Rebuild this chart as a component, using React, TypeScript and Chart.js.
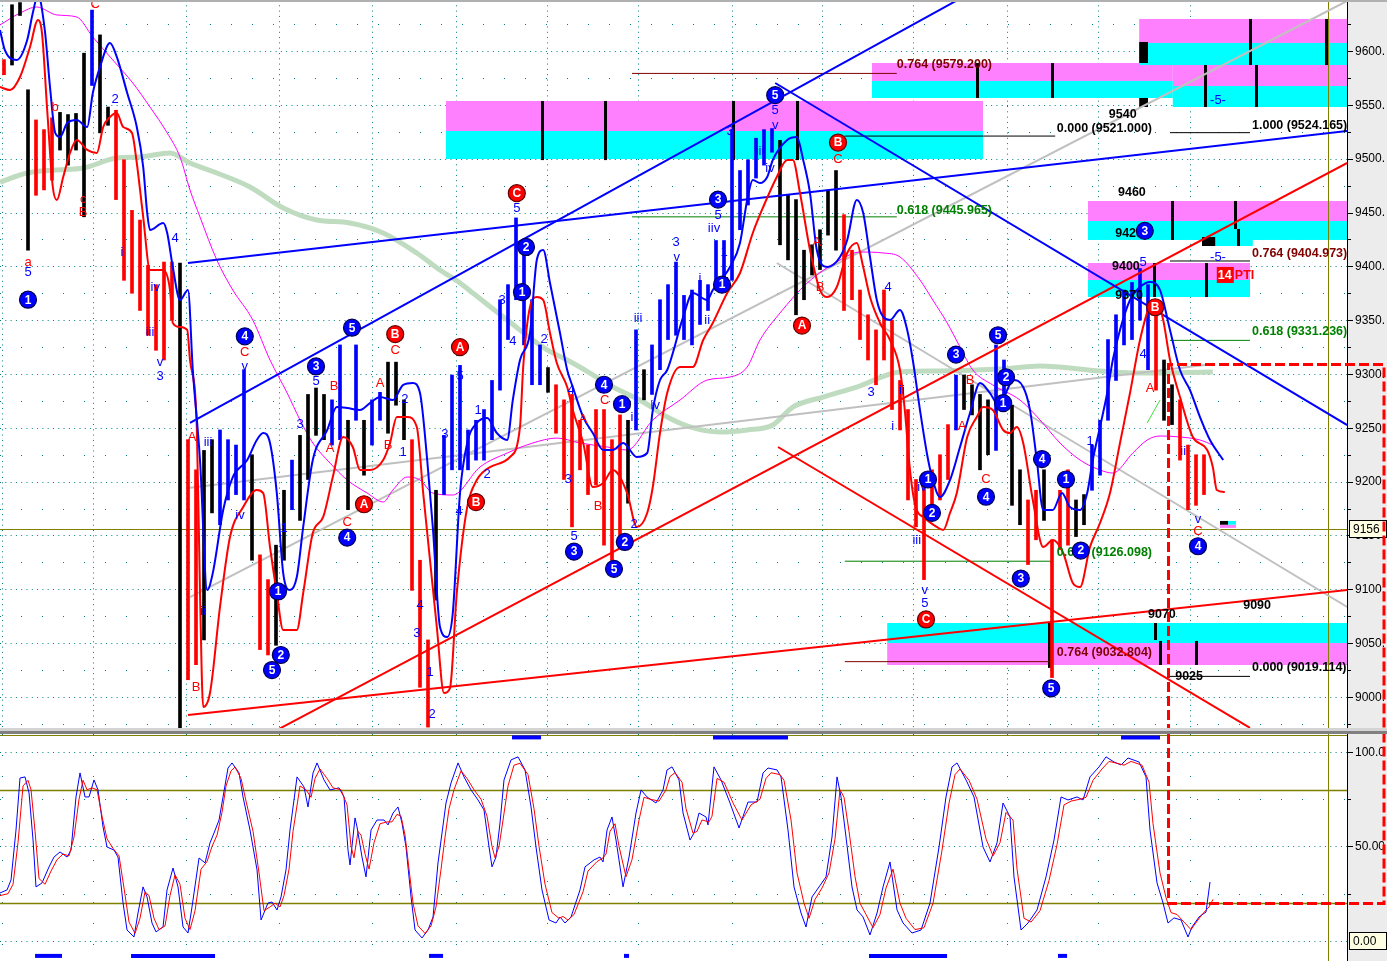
import React, { useEffect, useRef } from "react";
import { Chart, registerables } from "chart.js";
Chart.register(...registerables);

const FONT = '"Liberation Sans", Arial, sans-serif';
// x axis unit = one bar
const X_MIN = 0;
const X_MAX = 168.375;
const P_MIN = 8965.6;
const P_MAX = 9647.4;
const S_MIN = -10.6;
const S_MAX = 109.5;

// ---------------- price bars ----------------
const barHigh = [
  9592, 9643, 9645, 9564, 9536, 9527, 9538, 9543, 9541, 9542,
  9598, 9638, 9615, 9548, 9545, 9499, 9452, 9443, 9401, 9383,
  9404, 9404, 9403, 9239, 9211, 9229, 9239, 9248, 9239, 9234,
  9304, 9225, 9132, 9109, 9141, 9192, 9220, 9243, 9281, 9287,
  9281, 9276, 9327, 9257, 9327, 9257, 9276, 9283, 9311, 9311,
  9276, 9239, 9127, 9053, 9192, 9243, 9299, 9308, 9248, 9257,
  9267, 9294, 9369, 9383, 9445, 9424, 9369, 9327, 9306, 9290,
  9276, 9281, 9257, 9234, 9267, 9267, 9239, 9262, 9257, 9341,
  9304, 9327, 9369, 9383, 9404, 9373, 9378, 9387, 9383, 9424,
  9424, 9527, 9489, 9499, 9519, 9527, 9528, 9517, 9466, 9462,
  9415, 9420, 9434, 9471, 9489, 9448, 9415, 9378, 9355, 9341,
  9378, 9350, 9294, 9267, 9202, 9202, 9211, 9225, 9253, 9299,
  9299, 9290, 9281, 9276, 9327, 9313, 9271, 9211, 9183, 9192,
  9211, 9146, 9192, 9211, 9183, 9188, 9234, 9257, 9332, 9355,
  9378, 9385, 9398, 9383, 9369, 9313, 9290, 9276, 9234, 9225,
  9225,
];
const barLow = [
  9578, 9587, 9633, 9415, 9466, 9471, 9480, 9508, 9494, 9508,
  9446, 9568, 9524, 9531, 9462, 9387, 9375, 9359, 9336, 9322,
  9313, 9350, 8969, 9016, 9030, 9053, 9171, 9160, 9183, 9188,
  9183, 9127, 9044, 9039, 9048, 9127, 9174, 9164, 9202, 9243,
  9239, 9234, 9239, 9174, 9257, 9206, 9234, 9257, 9245, 9271,
  9239, 9099, 9009, 8972, 9090, 9188, 9211, 9211, 9211, 9220,
  9220, 9239, 9285, 9332, 9369, 9327, 9290, 9290, 9283, 9245,
  9202, 9158, 9211, 9188, 9197, 9141, 9127, 9150, 9180, 9248,
  9276, 9281, 9304, 9332, 9336, 9332, 9327, 9346, 9359, 9378,
  9383, 9387, 9434, 9457, 9482, 9494, 9506, 9420, 9406, 9355,
  9369, 9392, 9397, 9429, 9415, 9359, 9369, 9332, 9313, 9290,
  9313, 9267, 9248, 9183, 9158, 9109, 9164, 9183, 9202, 9248,
  9267, 9262, 9211, 9225, 9229, 9276, 9178, 9160, 9123, 9146,
  9164, 9018, 9137, 9141, 9149, 9160, 9192, 9206, 9257, 9294,
  9327, 9332, 9350, 9304, 9285, 9257, 9253, 9220, 9174, 9178,
  9188,
];
const barColor = (
  "rkkkrrrkkk" + "kbkkrrrrrr" + "rrkrrkkbbb" + "bkrrkkbkkk" + "kbbkbkbbkk" +
  "krrrkbbbbb" + "bbbbbbbbkr" + "rrrrrrrrkb" + "kbbbbbbbbb" + "bbbbbbbkkk" +
  "kkkkkrrrrr" + "rrrrrrrrrb" + "kkkkbbkkrr" + "krrrkkbbbb" + "bbbbrkkrrr" + "r"
).split("");

// ---------------- smooth overlays [bar, price] ----------------
const blueBand = [
  [0, 9619.5], [0.6, 9601], [2.1, 9591.7], [3.4, 9610.2], [4.1, 9635.3], [4.75, 9652], [5.6, 9619.5],
  [6.25, 9566.6], [6.9, 9523.9], [7.5, 9520.1], [8.4, 9533.1], [9.6, 9535.9], [10.9, 9529.4], [11.6, 9561],
  [12.5, 9585.2], [13.75, 9607.5], [14.6, 9594.5], [15.9, 9561], [17.1, 9529.4], [17.9, 9492.3], [18.4, 9449.5],
  [18.75, 9433.8], [20.4, 9440.3], [20.9, 9431], [21.6, 9399.4], [22.5, 9368.7], [23.5, 9378], [24.1, 9303.7],
  [25, 9220.1], [25.9, 9099.3], [26.6, 9115.1], [27.9, 9173.7], [29.1, 9204.3], [30.9, 9220.1], [32.1, 9238.7],
  [32.9, 9245.2], [33.75, 9235.9], [34.6, 9189.4], [35.4, 9115.1], [36.25, 9099.3], [37.1, 9111.4], [37.9, 9157.9],
  [39.1, 9220.1], [40.9, 9248], [42.1, 9269.3], [43.4, 9268.4], [45, 9266.5], [46.25, 9273], [47.5, 9278.6],
  [49.1, 9275.8], [50.4, 9289.8], [51.6, 9291.6], [52.5, 9282.3], [53.4, 9220.1], [54.1, 9157.9], [55, 9065],
  [55.9, 9055.7], [56.6, 9078], [57.5, 9189.4], [58.4, 9235.9], [59.6, 9254.5], [60.9, 9259.1], [62.1, 9245.2],
  [63.4, 9238.7], [64.1, 9275.8], [65, 9313], [66.25, 9338.1], [67.1, 9405.9], [67.9, 9415.2], [68.75, 9384.5],
  [70, 9338.1], [70.9, 9303.7], [71.6, 9287.9], [72.9, 9260], [74.1, 9245.2], [75.4, 9229.4], [76.6, 9229.4],
  [77.9, 9235.9], [79.6, 9222.9], [80.9, 9226.6], [81.6, 9266.5], [82.5, 9294.4], [83.4, 9303.7], [85.4, 9353],
  [86.6, 9375.2], [88.4, 9368.7], [89.1, 9378], [91.25, 9399.4], [92.5, 9421.7], [93.4, 9461.6], [94.1, 9480.2],
  [95, 9477.4], [95.9, 9483], [96.6, 9498.8], [98.4, 9517.4], [99.6, 9520.1], [100.4, 9498.8], [101.25, 9468.1],
  [102.1, 9415.2], [103.4, 9399.4], [105, 9408.7], [105.9, 9424.5], [107.1, 9461.6], [107.9, 9449.5], [108.75, 9408.7],
  [109.6, 9368.7], [110.4, 9353], [111.25, 9350.1], [112.5, 9359.4], [113.4, 9340.9], [114.1, 9313], [115, 9266.5],
  [115.9, 9224.8], [116.6, 9201.5], [117.5, 9185.7], [118.75, 9201.5], [120, 9232.2], [121.25, 9263.8], [122.5, 9291.6],
  [123.75, 9282.3], [125, 9269.3], [125.9, 9285.1], [126.6, 9294.4], [127.9, 9287.9], [128.75, 9266.5], [129.6, 9220.1],
  [130.4, 9173.7], [131.6, 9173.7], [132.75, 9189.4], [133.75, 9176.4], [135, 9173.7], [135.9, 9189.4], [136.6, 9220.1],
  [137.5, 9250.8], [138.4, 9282.3], [139.1, 9313], [140, 9340.9], [141.25, 9368.7], [142.5, 9380.8], [143.75, 9385.4],
  [145, 9378], [146.25, 9340.9], [147.5, 9303.7], [148.75, 9285.1], [150, 9260], [151.25, 9238.7], [152.9, 9220.1],
];
const redBand = [
  [0, 9566.6], [1.25, 9563.8], [2.5, 9575.9], [3.75, 9603.7], [4.75, 9628.8], [5.25, 9616.7], [5.9, 9545.2],
  [6.6, 9473.7], [7.1, 9461.6], [7.9, 9483], [8.75, 9505.3], [9.6, 9517.4], [10.9, 9508.1], [12.1, 9505.3],
  [12.9, 9529.4], [13.75, 9538.7], [14.6, 9542.4], [15.4, 9529.4], [16.5, 9523.9], [17.1, 9496], [17.9, 9445.8],
  [18.75, 9396.6], [20.4, 9396.6], [21.25, 9378], [21.6, 9347.4], [22.5, 9343.6], [23.4, 9340.9], [23.75, 9313],
  [24.6, 9250.8], [25, 9096.6], [25.4, 8990.7], [26.25, 9003.7], [27.5, 9083.6], [28.75, 9148.6], [30.4, 9176.4],
  [32.1, 9192.2], [32.9, 9189.4], [33.75, 9139.3], [34.6, 9096.6], [35.4, 9062.2], [37.1, 9062.2], [37.9, 9096.6],
  [39.1, 9152.3], [40.4, 9167.2], [41.6, 9204.3], [42.9, 9241.5], [44.1, 9232.2], [45, 9210.8], [46.25, 9210.8],
  [47.9, 9220.1], [48.75, 9235.9], [49.6, 9260], [50.9, 9260], [52.1, 9250.8], [52.9, 9189.4], [53.75, 9127.2],
  [54.6, 9065], [55.5, 9003.7], [56.25, 9008.3], [57.1, 9096.6], [58.4, 9176.4], [59.6, 9201.5], [61.25, 9213.6],
  [63.75, 9222.9], [65, 9250.8], [65.4, 9306.5], [66.25, 9362.2], [67.1, 9371.5], [67.9, 9368.7], [68.75, 9338.1],
  [69.6, 9310.2], [70.9, 9287.9], [71.6, 9266.5], [72.9, 9235.9], [74.1, 9195], [75.4, 9198.7], [76.6, 9210.8],
  [78.4, 9189.4], [79.6, 9157.9], [80.9, 9170.9], [81.6, 9195], [82.5, 9245.2], [83.4, 9282.3], [85, 9306.5],
  [86.6, 9306.5], [87.9, 9331.6], [89.1, 9347.4], [90.9, 9375.2], [92.5, 9393.8], [94.1, 9431], [95.4, 9455.1],
  [97.1, 9483], [98.4, 9498.8], [99.1, 9498.8], [100, 9468.1], [101.25, 9415.2], [102.5, 9378], [103.4, 9371.5],
  [104.6, 9380.8], [105.9, 9412.4], [107.1, 9421.7], [107.9, 9399.4], [108.75, 9371.5], [110, 9347.4], [111.25, 9331.6],
  [112.5, 9303.7], [113.1, 9266.5], [113.75, 9210.8], [114.4, 9178.3], [115.6, 9166.2], [117.1, 9157.9], [117.9, 9155.1],
  [118.75, 9170.9], [119.6, 9189.4], [120.9, 9241.5], [122.1, 9260], [122.9, 9269.3], [124.1, 9266.5], [125.4, 9248],
  [126.25, 9245.2], [127.1, 9250.8], [127.9, 9235.9], [129.1, 9183], [130.4, 9139.3], [131.6, 9145.8], [132.9, 9133.7],
  [134.1, 9105.8], [135, 9102.1], [136.25, 9139.3], [137.5, 9161.6], [138.75, 9189.4], [140, 9235.9], [141.25, 9282.3],
  [142.5, 9331.6], [143.75, 9364.1], [144.6, 9368.7], [145.4, 9350.1], [146.25, 9313], [147.5, 9278.6], [149.1, 9241.5],
  [150.9, 9229.4], [151.6, 9213.6], [152.1, 9192.2], [153.1, 9190.4],
];
const magentaAvg = [
  [0, 9624.2], [2.5, 9635.3], [4.6, 9640.9], [7.1, 9633.5], [9.6, 9631.6], [11.6, 9613], [14.1, 9591.7],
  [16.6, 9570.3], [18.75, 9548], [20.9, 9523.9], [22.5, 9501.6], [23.75, 9470.9], [25, 9445.8], [27.1, 9405.9],
  [29.1, 9378], [31.6, 9350.1], [33.75, 9313], [35.9, 9282.3], [37.5, 9257.3], [39.1, 9235.9], [41.25, 9217.3],
  [43.4, 9201.5], [45.9, 9189.4], [47.9, 9181.1], [49.1, 9192.2], [50.9, 9204.3], [52.5, 9201.5], [54.1, 9189.4],
  [56.6, 9187.6], [60, 9213.6], [63.4, 9226.6], [66.6, 9235.9], [69.6, 9240.5], [72.5, 9235.9], [75.9, 9232.2],
  [78.4, 9229.4], [81.6, 9257.3], [85, 9275.8], [88.4, 9294.4], [91.25, 9297.2], [93.4, 9306.5], [95, 9331.6],
  [97.5, 9356.7], [100.9, 9384.5], [105, 9405.9], [107.5, 9413.3], [110.4, 9412.4], [112.5, 9408.7], [115, 9387.3],
  [116.6, 9368.7], [118.4, 9347.4], [120, 9325.1], [121.6, 9303.7], [124.1, 9289.8], [127.5, 9275.8], [130, 9257.3],
  [132.5, 9235.9], [135, 9220.1], [137.5, 9210.8], [139.1, 9208], [141.6, 9226.6], [143.4, 9238.7], [145, 9242.4],
  [147.5, 9241.5], [150, 9238.7], [151.6, 9234],
];
const greenAvg = [
  [0, 9478.3], [3.4, 9486.7], [7.1, 9489.5], [10.4, 9491.3], [14.6, 9500.6], [17.5, 9501.6], [21.25, 9505.3],
  [23.75, 9496], [27.1, 9486.7], [31.25, 9473.7], [35.4, 9454.2], [39.6, 9443.1], [43.75, 9440.3], [47.9, 9431],
  [52.1, 9412.4], [55, 9396.6], [57.5, 9384.5], [59.1, 9375.2], [63.4, 9350.1], [68.4, 9322.3], [70.9, 9313],
  [73.75, 9300.9], [76.6, 9287.9], [80, 9275.8], [83.4, 9260], [86.25, 9250.8], [90, 9246.1], [93.4, 9248],
  [96.6, 9252.6], [99.1, 9269.3], [102.9, 9278.6], [107.1, 9287.9], [112.5, 9301.9], [117.5, 9302.8], [125, 9304.6],
  [130, 9307.4], [137.5, 9302.8], [142.5, 9300.9], [151.6, 9301.9],
];

// ---------------- trend lines [[bar, price],[bar, price]] ----------------
const blueTrends = [
  [[23.75, 9254.5], [123.1, 9661.3]],
  [[23.5, 9403.1], [168.4, 9525.7]],
  [[96.9, 9570.3], [168.4, 9252.6]],
];
const redTrends = [
  [[34.6, 8969.3], [168.4, 9496]],
  [[23.5, 8983.2], [168.4, 9099.3]],
  [[97.25, 9232.2], [156.25, 8971.2]],
];
const grayTrends = [
  [[23.75, 9092.8], [168.4, 9646.5]],
  [[23.5, 9194.1], [151.6, 9309.3]],
  [[97.1, 9403.1], [168.4, 9083.6]],
];
const limeTrend = [[143.4, 9254.5], [145, 9275.8]];

// ---------------- fibonacci levels [barFrom, barTo, price] ----------------
const fibBlack = [[105.6, 131.9, 9521], [146.25, 156.25, 9524.165], [146.25, 156.25, 9404.973], [146.25, 156.25, 9019.114]];
const fibGreen = [[79, 112.1, 9445.965], [146.25, 156.25, 9331.236], [105.6, 131.6, 9126.098]];
const fibDarkRed = [[79, 112.1, 9579.2], [105.6, 131.25, 9032.804]];

// ---------------- target zones [barFrom, barTo, priceLo, priceHi] ----------------
const magentaZones = [
  [55.75, 122.875, 9525.7, 9553.6], [109, 146.6, 9572.2, 9588.9], [146.6, 168.4, 9567.5, 9587],
  [142.4, 168.4, 9607.5, 9629.8], [136, 168.4, 9442.1, 9460.7], [150.25, 156.6, 9426.3, 9434.7],
  [136, 156.25, 9387.3, 9403.1], [110.9, 168.4, 9029.7, 9050.1], [152.5, 154.5, 9157, 9160],
];
const cyanZones = [
  [55.75, 122.875, 9499.7, 9525.7], [109, 146.6, 9556.4, 9572.2], [146.6, 168.4, 9548, 9567.5],
  [142.4, 168.4, 9587, 9607.5], [136, 168.4, 9424.5, 9442.1], [150.25, 156.6, 9418.9, 9426.3],
  [136, 156.25, 9371.5, 9387.3], [110.9, 168.4, 9050.1, 9068.7], [153.5, 154.5, 9160, 9163.5],
];
const blackBlocks = [
  [142.4, 143.5, 9588.9, 9608.4], [142.4, 143.5, 9548, 9556.4], [150.25, 151.9, 9418.9, 9427.2],
  [152.5, 153.5, 9160, 9163.5],
];
const zoneTicks = [
  [67.75, 9498.7, 9553.6], [75.6, 9498.7, 9553.6], [91.6, 9498.7, 9553.6], [99.6, 9498.7, 9553.6],
  [122.1, 9556.4, 9588.9], [131.5, 9556.4, 9588.9], [150.6, 9548, 9587], [157, 9548, 9587],
  [156.25, 9587, 9629.8], [165.75, 9587, 9629.8], [146.5, 9424.5, 9460.7], [154.4, 9434.7, 9460.7],
  [154.75, 9418.9, 9434.7], [144.25, 9371.5, 9403.1], [150.75, 9371.5, 9403.1], [144.4, 9052.9, 9068.7],
  [145, 9029.7, 9052], [149.5, 9029.7, 9052], [131.1, 9027, 9068.7],
];

// ---------------- wave labels [bar, price, text] ----------------
const redWaveText = [
  [3.5, 9404, "a"], [6.9, 9548, "b"], [10.4, 9462, "c"], [10.4, 9450, "B"], [11.9, 9643, "C"], [24, 9241, "A"],
  [24.5, 9009, "B"], [30.6, 9320, "C"], [41.75, 9288, "B"], [41.25, 9231, "A"], [47.5, 9291, "A"], [48.5, 9234, "B"],
  [49.4, 9322, "C"], [43.4, 9162, "C"], [72.9, 9258, "A"], [75.6, 9275, "C"], [74.75, 9177, "B"], [104.75, 9499, "C"],
  [102.1, 9422, "A"], [102.5, 9380, "B"], [120.25, 9251, "A"], [121.25, 9294, "B"], [123.25, 9202, "C"],
  [143.75, 9287, "A"], [149.75, 9154, "C"],
];
const blueWaveText = [
  [3.5, 9394, "5"], [14.4, 9555, "2"], [15.25, 9413, "i"], [19.4, 9380, "iv"], [18.75, 9339, "iii"], [20, 9311, "v"],
  [20, 9298, "3"], [21.9, 9426, "4"], [26, 9236, "iii"], [25.4, 9079, "ii"], [30, 9169, "iv"], [30.6, 9307, "v"],
  [35.5, 9157, "1"], [37.5, 9253, "3"], [39.5, 9293, "5"], [50.6, 9276, "2"], [50.4, 9227, "1"], [52.5, 9085, "4"],
  [52.1, 9059, "3"], [53.75, 9023, "1"], [54, 8984, "2"], [55.6, 9244, "3"], [57.5, 9298, "5"], [59.75, 9266, "1"],
  [60.9, 9207, "2"], [57.4, 9172, "4"], [62.75, 9368, "3"], [64.1, 9330, "4"], [64.6, 9454, "5"], [68, 9332, "2"],
  [71.4, 9285, "4"], [71, 9202, "3"], [71.75, 9149, "5"], [79.25, 9160, "2"], [79, 9260, "i"], [79.75, 9352, "iii"],
  [81.9, 9271, "iv"], [84.5, 9422, "3"], [84.6, 9408, "v"], [87.5, 9389, "i"], [88.4, 9350, "ii"], [89.25, 9435, "iiv"],
  [89.75, 9447, "5"], [90.5, 9413, "1"], [90.75, 9385, "4"], [91.25, 9525, "3"], [95, 9507, "iii"], [96.25, 9491, "iv"],
  [96.9, 9531, "v"], [96.9, 9545, "5"], [111, 9380, "4"], [108.9, 9283, "3"], [112.75, 9285, "ii"], [111.6, 9251, "i"],
  [114.6, 9145, "iii"], [115.25, 9195, "iv"], [115.6, 9099, "v"], [115.6, 9087, "5"], [136.25, 9237, "1"],
  [142.9, 9404, "5"], [142.9, 9318, "4"], [147.9, 9228, "ii"], [149.75, 9165, "v"], [152.25, 9554, "-5-"],
  [152.25, 9408, "-5-"],
];
const blueCircles = [
  [3.5, 9369, "1"], [30.6, 9335, "4"], [39.5, 9307, "3"], [44, 9343, "5"], [43.4, 9148, "4"], [34, 9025, "5"],
  [35.1, 9039, "2"], [34.75, 9098, "1"], [65.75, 9418, "2"], [65.25, 9376, "1"], [75.5, 9290, "4"], [77.75, 9272, "1"],
  [71.75, 9135, "3"], [76.75, 9119, "5"], [78.1, 9144, "2"], [89.75, 9462, "3"], [90.25, 9383, "1"], [96.9, 9559, "5"],
  [119.5, 9318, "3"], [124.75, 9336, "5"], [125.75, 9297, "2"], [125.4, 9273, "1"], [123.25, 9186, "4"], [116, 9202, "1"],
  [116.5, 9171, "2"], [127.6, 9110, "3"], [130.25, 9221, "4"], [133.25, 9202, "1"], [135.1, 9136, "2"], [131.4, 9008, "5"],
  [143.1, 9433, "3"], [149.75, 9140, "4"],
];
const redCircles = [
  [49.4, 9337, "B"], [57.5, 9325, "A"], [45.5, 9179, "A"], [59.5, 9181, "B"], [64.6, 9468, "C"], [100.25, 9345, "A"],
  [104.75, 9515, "B"], [115.75, 9072, "C"], [144.4, 9362, "B"],
];

// ---------------- projection texts [bar, price, text] ----------------
const darkRedTexts = [[112.1, 9587, "0.764 (9579.200)"], [156.5, 9412, "0.764 (9404.973)"], [132.1, 9041, "0.764 (9032.804)"]];
const greenTexts = [[112.1, 9452, "0.618 (9445.965)"], [156.5, 9339, "0.618 (9331.236)"], [132.1, 9134, "0.618 (9126.098)"]];
const blackTexts = [
  [132.1, 9528, "0.000 (9521.000)"], [156.5, 9531, "1.000 (9524.165)"], [138.6, 9541, "9540"], [139.75, 9469, "9460"],
  [139.4, 9430, "9425"], [139, 9400, "9400"], [139.4, 9373, "9370"], [143.5, 9077, "9070"], [155.4, 9085, "9090"],
  [146.9, 9019, "9025"], [156.5, 9027, "0.000 (9019.114)"],
];
const ptiTags = [[152.1, 9392, "14", "PTI"]];

// ---------------- axes / grid ----------------
const priceLabels = [9000, 9050, 9100, 9150, 9200, 9250, 9300, 9350, 9400, 9450, 9500, 9550, 9600];
const priceMinor = [8975, 9025, 9075, 9125, 9175, 9225, 9275, 9325, 9375, 9425, 9475, 9525, 9575, 9625];
const gridBars = [0.25, 11.63, 23.25, 34.88, 46.5, 57, 68.38, 79.75, 91.5, 102.75, 114.13, 125.88, 137.25, 148.75];
const lastPrice = 9156;
const lastBar = 166;
const alertBox = { bar: 146, priceTop: 9309.3, stochBottom: 20 };

// ---------------- stochastic [bar, value] ----------------
const stochK = [
  [0, 25.4], [0.88, 27], [1.38, 32.3], [2, 58.7], [2.5, 86.2], [3.13, 86.8], [3.63, 78.3], [4.13, 53.4], [4.5, 28.6],
  [5.25, 30.7], [6.13, 39.2], [6.75, 44.4], [7.5, 47.1], [8.38, 44.4], [8.88, 48.1], [9.5, 76.2], [10, 88.9], [10.63, 76.2],
  [11.13, 76.2], [11.75, 85.2], [12.25, 79.9], [12.88, 60.3], [13.38, 49.7], [14.25, 48.1], [14.75, 44.4], [15.38, 20.1],
  [15.88, 5.8], [16.75, 2.1], [17.25, 14.8], [17.88, 28.6], [18.38, 23.3], [19, 9.5], [19.5, 4.8], [20.38, 7.4], [20.88, 27],
  [21.63, 38.6], [22.25, 28.6], [22.88, 7.4], [23.5, 4.2], [24, 18], [24.88, 43.9], [25.63, 41.3], [26.25, 51.9],
  [26.75, 57.1], [27.38, 64], [27.88, 76.2], [28.5, 91.5], [29, 94.2], [29.88, 88.9], [30.38, 76.2], [31.25, 58.7],
  [32.13, 37.6], [32.63, 11.1], [33.5, 20.1], [34, 20.6], [34.63, 16.4], [35.13, 23.3], [35.75, 37.6], [36.25, 58.7],
  [37.13, 86.8], [38, 81.5], [38.5, 70.9], [39.13, 88.9], [39.63, 94.2], [40.5, 85.2], [41.25, 79.9], [42.38, 81],
  [43, 76.2], [43.5, 48.1], [43.75, 40.2], [44.38, 65.1], [44.63, 60.3], [45.25, 44.4], [45.75, 33.9], [46.38, 58.7],
  [47.13, 64], [48, 64], [48.5, 61.4], [49.13, 67.7], [49.75, 70.9], [50.25, 62.4], [50.75, 49.7], [51.38, 23.3],
  [51.88, 5.8], [52.75, 1.6], [53.5, 5.8], [54.13, 12.7], [54.75, 41.3], [55.25, 57.1], [55.75, 73], [56.38, 83.6],
  [57.25, 94.2], [58, 86.8], [58.88, 79.9], [59.75, 74.6], [60.5, 69.3], [61.13, 49.7], [61.5, 39.2], [62, 44.4],
  [62.5, 62.4], [63, 85.2], [63.88, 95.8], [64.75, 97.4], [65.63, 90.5], [66.38, 70.9], [67, 49.7], [67.75, 27],
  [68.63, 11.1], [69.5, 9.5], [70, 12.7], [70.63, 9.5], [71.38, 12.7], [72.5, 27], [73.13, 39.2], [74.25, 42.9],
  [75, 44.4], [75.38, 41.8], [75.88, 58.7], [76.5, 65.6], [77, 53.4], [77.88, 28.6], [78.63, 44.4], [79.5, 67.7],
  [80.13, 79.9], [80.88, 76.2], [82, 73], [82.88, 79.9], [83.38, 90.5], [84, 92.1], [84.88, 85.2], [85.38, 67.7],
  [86.25, 53.4], [86.75, 57.1], [87.38, 67.7], [88.25, 65.6], [88.5, 61.4], [89.25, 92.1], [90.13, 85.2], [91.25, 73],
  [92.38, 59.8], [93.5, 73.5], [94.63, 73.5], [95.38, 88.9], [96, 91.5], [97.13, 90.5], [97.63, 86.8], [98.5, 58.7],
  [99.25, 28.6], [100.13, 14.8], [100.75, 7.4], [101.5, 23.3], [102.38, 28.6], [103.25, 33.9], [104, 55], [104.63, 86.8],
  [105.13, 76.2], [105.75, 55], [106.5, 28.6], [107.13, 16.4], [107.88, 12.7], [108.75, 3.2], [109.63, 14.8],
  [110.38, 28.6], [111.25, 41.8], [112.13, 16.4], [112.88, 9.5], [114, 4.2], [115.13, 5.8], [116.25, 20.1],
  [117.38, 49.7], [118.25, 76.2], [119, 92.1], [119.63, 94.2], [120.75, 85.2], [121.75, 76.2], [122.88, 49.7],
  [123.75, 41.8], [124.63, 51.9], [125.38, 73], [126.25, 65.6], [126.75, 33.9], [127.63, 5.8], [128.5, 9.5],
  [129.63, 16.4], [130.75, 33.9], [131.75, 53.4], [132.63, 76.2], [133.5, 74.6], [134.63, 76.2], [135.38, 74.6],
  [136.25, 86.8], [137.38, 92.1], [138.25, 97.4], [139.25, 94.7], [140.13, 93.1], [141, 96.8], [142.38, 94.7],
  [143.25, 86.8], [143.75, 58.7], [144.63, 30.7], [145.38, 20.1], [146, 9.5], [146.75, 12.2], [147.63, 11.1],
  [148.5, 2.1], [149, 7.4], [149.88, 12.7], [150.75, 15.3], [151.25, 31.2],
];
const stochD = [
  [0, 24], [1, 25], [1.63, 30], [2.25, 52], [2.88, 82], [3.5, 85], [3.88, 80], [4.38, 58], [4.88, 33], [5.63, 30],
  [6.38, 37], [7.13, 43], [7.88, 46], [8.63, 45], [9.25, 55], [9.88, 75], [10.38, 85], [10.88, 80], [11.5, 81],
  [12.13, 80], [12.75, 66], [13.38, 54], [14.13, 49], [14.88, 45], [15.5, 28], [16.13, 10], [16.88, 4], [17.5, 12],
  [18.13, 26], [18.63, 24], [19.25, 12], [19.88, 6], [20.63, 8], [21.25, 24], [21.88, 35], [22.5, 30], [23.13, 12],
  [23.75, 6], [24.38, 16], [25.13, 38], [25.88, 42], [26.5, 50], [27.13, 56], [27.75, 68], [28.25, 82], [28.88, 90],
  [29.38, 92], [30.13, 86], [30.75, 74], [31.63, 58], [32.38, 36], [33, 16], [33.75, 18], [34.38, 20], [35, 18],
  [35.5, 24], [36.13, 38], [36.63, 58], [37.5, 82], [38.25, 80], [38.88, 76], [39.38, 86], [40, 91], [40.88, 86],
  [41.63, 81], [42.63, 80], [43.38, 72], [43.88, 50], [44.25, 44], [44.75, 58], [45.13, 56], [45.63, 46], [46.13, 38],
  [46.75, 52], [47.5, 62], [48.38, 63], [49, 63], [49.63, 67], [50.13, 66], [50.63, 56], [51.13, 38], [51.63, 20],
  [52.25, 8], [53.13, 4], [53.88, 8], [54.5, 18], [55.13, 38], [55.63, 55], [56.13, 70], [56.75, 80], [57.63, 90],
  [58.38, 86], [59.25, 80], [60.13, 75], [60.88, 66], [61.5, 50], [61.88, 44], [62.38, 50], [62.88, 64], [63.5, 82],
  [64.25, 93], [65, 94], [66, 88], [66.75, 70], [67.38, 50], [68.13, 30], [69, 15], [69.88, 12], [70.38, 13], [71, 11],
  [71.75, 14], [72.88, 26], [73.5, 37], [74.63, 42], [75.38, 44], [75.75, 46], [76.25, 58], [76.88, 62], [77.38, 50],
  [78.25, 34], [79, 43], [79.88, 64], [80.5, 76], [81.25, 75], [82.38, 74], [83.25, 80], [83.75, 87], [84.38, 89],
  [85.25, 84], [85.75, 70], [86.63, 57], [87.13, 58], [87.75, 64], [88.63, 63], [89, 66], [89.63, 86], [90.5, 84],
  [91.63, 73], [92.75, 64], [93.88, 72], [95, 75], [95.75, 86], [96.38, 89], [97.5, 88], [98, 85], [98.88, 64],
  [99.63, 36], [100.5, 20], [101.13, 12], [101.88, 22], [102.75, 28], [103.63, 36], [104.38, 54], [105, 80], [105.5, 76],
  [106.13, 58], [106.88, 34], [107.5, 20], [108.25, 14], [109.13, 7], [110, 14], [110.75, 28], [111.63, 38], [112.5, 20],
  [113.25, 12], [114.38, 6], [115.5, 7], [116.63, 20], [117.75, 48], [118.63, 73], [119.38, 88], [120, 91], [121.13, 85],
  [122.13, 75], [123.25, 54], [124.13, 45], [125, 52], [125.75, 68], [126.63, 64], [127.13, 38], [128, 12], [128.88, 10],
  [130, 16], [131.13, 32], [132.13, 51], [133, 72], [133.88, 74], [135, 75], [135.75, 76], [136.63, 85], [137.75, 91],
  [138.63, 95], [139.63, 94], [140.5, 93], [141.38, 95], [142.75, 93], [143.63, 84], [144.13, 62], [145, 36],
  [145.75, 23], [146.38, 15], [147.13, 14], [148, 10], [148.88, 6], [149.38, 9], [150.25, 14], [151.13, 18], [151.63, 22],
];
const signalTop = [[64, 67.63], [89.13, 98.5], [140.13, 145]];
const signalBottom = [[4.38, 7.75], [16.38, 26.88], [53.63, 55.38], [78, 78.63], [108.63, 118.38], [132.25, 133.38]];
const signalTopLevel = 107.7;
const signalBottomLevel = -7.9;
const stochDense = [100, 50, 0];
const stochSparse = [75, 25];
const stochBands = [80, 20];

// ---------------- helpers ----------------
const BAR_COLORS: any = { r: "#ff0000", k: "#000000", b: "#0000ff" };
const pts = (arr: any[]) => arr.map(([x, y]) => ({ x, y }));
function lineDs(data: any[], color: string, width: number, order: number, yAxisID: string, extra: any = {}) {
  return {
    type: "line", data: pts(data), borderColor: color, borderWidth: width, pointRadius: 0,
    fill: false, order, xAxisID: "x", yAxisID, tension: 0, ...extra,
  };
}
function hline(ctx: any, x0: number, x1: number, y: number) {
  ctx.beginPath(); ctx.moveTo(x0, y); ctx.lineTo(x1, y); ctx.stroke();
}
function vline(ctx: any, x: number, y0: number, y1: number) {
  ctx.beginPath(); ctx.moveTo(x, y0); ctx.lineTo(x, y1); ctx.stroke();
}
function circle(ctx: any, x: number, y: number, fill: string, stroke: string, label: string) {
  ctx.beginPath(); ctx.arc(x, y, 8.5, 0, Math.PI * 2);
  ctx.fillStyle = fill; ctx.fill();
  ctx.lineWidth = 1.2; ctx.strokeStyle = stroke; ctx.stroke();
  ctx.fillStyle = "#ffffff"; ctx.font = `bold 12px ${FONT}`;
  ctx.textAlign = "center"; ctx.textBaseline = "middle";
  ctx.fillText(label, x, y + 0.5);
}
function valueBox(ctx: any, x0: number, x1: number, y: number, text: string) {
  ctx.fillStyle = "#ffffe4"; ctx.fillRect(x0, y - 9, x1 - x0, 18);
  ctx.strokeStyle = "#000"; ctx.lineWidth = 1; ctx.setLineDash([]);
  ctx.strokeRect(x0 + 0.5, y - 8.5, x1 - x0 - 1, 17);
  ctx.fillStyle = "#000"; ctx.font = `12px ${FONT}`; ctx.textAlign = "left"; ctx.textBaseline = "middle";
  ctx.fillText(text, x0 + 4, y + 0.5);
}

const priceDecor = {
  id: "priceDecor",
  beforeDraw(chart: any) {
    const { ctx, chartArea: a, width, height } = chart;
    ctx.save();
    ctx.fillStyle = "#ffffff"; ctx.fillRect(0, 0, width, height);
    ctx.fillStyle = "#ececec"; ctx.fillRect(a.right, 0, width - a.right, height);
    ctx.restore();
  },
  beforeDatasetsDraw(chart: any) {
    const { ctx, chartArea: a, scales } = chart;
    const X = (v: number) => scales.x.getPixelForValue(v);
    const Y = (v: number) => scales.yP.getPixelForValue(v);
    ctx.save();
    ctx.beginPath(); ctx.rect(a.left, a.top, a.right - a.left, a.bottom - a.top); ctx.clip();
    ctx.strokeStyle = "#008080"; ctx.lineWidth = 1;
    ctx.setLineDash([1, 4.3]);
    for (const v of priceLabels) hline(ctx, a.left, a.right, Math.round(Y(v)) + 0.5);
    for (const t of gridBars) vline(ctx, Math.round(X(t)) + 0.5, a.top, a.bottom);
    ctx.setLineDash([1, 20]);
    for (const v of priceMinor) hline(ctx, a.left, a.right, Math.round(Y(v)) + 0.5);
    ctx.setLineDash([]);
    ctx.fillStyle = "#ff80ff";
    for (const [t0, t1, p0, p1] of magentaZones) ctx.fillRect(X(t0), Y(p1), X(t1) - X(t0), Y(p0) - Y(p1));
    ctx.fillStyle = "#00ffff";
    for (const [t0, t1, p0, p1] of cyanZones) ctx.fillRect(X(t0), Y(p1), X(t1) - X(t0), Y(p0) - Y(p1));
    ctx.fillStyle = "#000000";
    for (const [t0, t1, p0, p1] of blackBlocks) ctx.fillRect(X(t0), Y(p1), X(t1) - X(t0), Y(p0) - Y(p1));
    for (const [t, p0, p1] of zoneTicks) ctx.fillRect(Math.round(X(t)) - 1, Y(p1), 3, Y(p0) - Y(p1));
    ctx.strokeStyle = "#808000"; ctx.lineWidth = 1;
    hline(ctx, a.left, a.right, Math.round(Y(lastPrice)) + 0.5);
    vline(ctx, Math.round(X(lastBar)) + 0.5, a.top, a.bottom);
    ctx.restore();
  },
  afterDatasetsDraw(chart: any) {
    const { ctx, chartArea: a, scales, width, height } = chart;
    const X = (v: number) => scales.x.getPixelForValue(v);
    const Y = (v: number) => scales.yP.getPixelForValue(v);
    ctx.save();
    ctx.textAlign = "center"; ctx.textBaseline = "middle";
    ctx.font = `13px ${FONT}`;
    ctx.fillStyle = "#ff0000";
    for (const [t, p, s] of redWaveText) ctx.fillText(s, X(t), Y(p));
    ctx.fillStyle = "#0000ff";
    for (const [t, p, s] of blueWaveText) ctx.fillText(s, X(t), Y(p));
    ctx.textAlign = "left";
    ctx.font = `bold 12.5px ${FONT}`;
    ctx.fillStyle = "#800000";
    for (const [t, p, s] of darkRedTexts) ctx.fillText(s, X(t), Y(p));
    ctx.fillStyle = "#008000";
    for (const [t, p, s] of greenTexts) ctx.fillText(s, X(t), Y(p));
    ctx.fillStyle = "#000000";
    for (const [t, p, s] of blackTexts) ctx.fillText(s, X(t), Y(p));
    for (const [t, p, s1, s2] of ptiTags) {
      const px = X(t), py = Y(p);
      ctx.fillStyle = "#ff0000"; ctx.fillRect(px, py - 8, 17, 16);
      ctx.fillStyle = "#ffffff"; ctx.fillText(s1, px + 1, py + 0.5);
      ctx.fillStyle = "#ff0000"; ctx.fillText(s2, px + 18, py + 0.5);
    }
    for (const [t, p, s] of blueCircles) circle(ctx, X(t), Y(p), "#0000ff", "#000050", s);
    for (const [t, p, s] of redCircles) circle(ctx, X(t), Y(p), "#ff0000", "#600000", s);

    // axis
    const ax = a.right;
    ctx.strokeStyle = "#000"; ctx.lineWidth = 1; ctx.setLineDash([]);
    vline(ctx, ax + 0.5, 0, height);
    for (const v of priceMinor) hline(ctx, ax, ax + 4, Math.round(Y(v)) + 0.5);
    for (const v of priceLabels) hline(ctx, ax, ax + 6, Math.round(Y(v)) + 0.5);
    ctx.fillStyle = "#000"; ctx.font = `12px ${FONT}`; ctx.textAlign = "left"; ctx.textBaseline = "middle";
    for (const v of priceLabels) ctx.fillText(`${v}.`, ax + 8, Y(v) + 0.5);
    valueBox(ctx, ax + 2, width, Math.round(Y(lastPrice)), `${lastPrice}`);

    // alert rectangle (upper part)
    ctx.strokeStyle = "#ff0000"; ctx.lineWidth = 3; ctx.setLineDash([10, 4]);
    const L = Math.round(X(alertBox.bar)) + 0.5, T = Math.round(Y(alertBox.priceTop)) + 0.5, R = width - 3;
    ctx.beginPath(); ctx.moveTo(L, height); ctx.lineTo(L, T); ctx.lineTo(R, T); ctx.lineTo(R, height); ctx.stroke();
    ctx.setLineDash([]);

    // frame
    ctx.fillStyle = "#b0b0b0"; ctx.fillRect(0, 0, width, 2);
    ctx.fillStyle = "#d4d4d4"; ctx.fillRect(0, height - 6, width, 3);
    ctx.fillStyle = "#808080"; ctx.fillRect(0, height - 3, width, 3);
    ctx.restore();
  },
};

const stochDecor = {
  id: "stochDecor",
  beforeDraw(chart: any) {
    const { ctx, chartArea: a, width, height } = chart;
    ctx.save();
    ctx.fillStyle = "#ffffff"; ctx.fillRect(0, 0, width, height);
    ctx.fillStyle = "#ececec"; ctx.fillRect(a.right, 0, width - a.right, height);
    ctx.restore();
  },
  beforeDatasetsDraw(chart: any) {
    const { ctx, chartArea: a, scales } = chart;
    const X = (v: number) => scales.x.getPixelForValue(v);
    const Y = (v: number) => scales.yS.getPixelForValue(v);
    ctx.save();
    ctx.beginPath(); ctx.rect(a.left, a.top, a.right - a.left, a.bottom - a.top); ctx.clip();
    ctx.strokeStyle = "#008080"; ctx.lineWidth = 1;
    ctx.setLineDash([1, 4.3]);
    for (const v of stochDense) hline(ctx, a.left, a.right, Math.round(Y(v)) + 0.5);
    ctx.setLineDash([1, 20]);
    for (const t of gridBars) vline(ctx, Math.round(X(t)) + 0.5, a.top, a.bottom);
    for (const v of stochSparse) hline(ctx, a.left, a.right, Math.round(Y(v)) + 0.5);
    ctx.setLineDash([]);
    ctx.strokeStyle = "#808000"; ctx.lineWidth = 1.5;
    for (const v of stochBands) hline(ctx, a.left, a.right, Math.round(Y(v)) + 0.5);
    ctx.lineWidth = 1;
    vline(ctx, Math.round(X(lastBar)) + 0.5, a.top, a.bottom);
    hline(ctx, a.left, a.right, 1.5);
    ctx.restore();
  },
  afterDatasetsDraw(chart: any) {
    const { ctx, chartArea: a, scales, width, height } = chart;
    const X = (v: number) => scales.x.getPixelForValue(v);
    const Y = (v: number) => scales.yS.getPixelForValue(v);
    ctx.save();
    const ax = a.right;
    ctx.strokeStyle = "#000"; ctx.lineWidth = 1;
    vline(ctx, ax + 0.5, 0, height);
    for (const v of [100, 75, 50, 25]) hline(ctx, ax, ax + (v % 50 === 0 ? 6 : 4), Math.round(Y(v)) + 0.5);
    ctx.fillStyle = "#000"; ctx.font = `12px ${FONT}`; ctx.textAlign = "left"; ctx.textBaseline = "middle";
    ctx.fillText("100.0", ax + 8, Y(100) + 0.5);
    ctx.fillText("50.00", ax + 8, Y(50) + 0.5);
    valueBox(ctx, ax + 2, width, Math.round(Y(0)), "0.00");
    ctx.strokeStyle = "#ff0000"; ctx.lineWidth = 3; ctx.setLineDash([10, 4]);
    const L = Math.round(X(alertBox.bar)) + 0.5, B = Math.round(Y(alertBox.stochBottom)) + 0.5, R = width - 3;
    ctx.beginPath(); ctx.moveTo(L, 0); ctx.lineTo(L, B); ctx.lineTo(R, B); ctx.lineTo(R, 0); ctx.stroke();
    ctx.restore();
  },
};

function priceConfig(): any {
  const datasets: any[] = [];
  datasets.push(lineDs(greenAvg, "#c0dcc0", 5, 20, "yP", { cubicInterpolationMode: "monotone" }));
  for (const seg of grayTrends) datasets.push(lineDs(seg, "#c0c0c0", 2, 18, "yP"));
  datasets.push(lineDs(magentaAvg, "#ff00ff", 1, 16, "yP", { cubicInterpolationMode: "monotone" }));
  for (const [t0, t1, p] of fibBlack) datasets.push(lineDs([[t0, p], [t1, p]], "#000000", 1, 15, "yP"));
  for (const [t0, t1, p] of fibGreen) datasets.push(lineDs([[t0, p], [t1, p]], "#008000", 1, 15, "yP"));
  for (const [t0, t1, p] of fibDarkRed) datasets.push(lineDs([[t0, p], [t1, p]], "#800000", 1, 15, "yP"));
  datasets.push({
    type: "bar", order: 12, xAxisID: "x", yAxisID: "yP",
    data: barHigh.map((h, i) => ({ x: i + 0.5, y: [barLow[i], h] })),
    backgroundColor: barColor.map((c) => BAR_COLORS[c]),
    borderWidth: 0, barThickness: 3,
  });
  for (const seg of blueTrends) datasets.push(lineDs(seg, "#0000ff", 2, 10, "yP"));
  for (const seg of redTrends) datasets.push(lineDs(seg, "#ff0000", 2, 10, "yP"));
  datasets.push(lineDs(limeTrend, "#40e040", 1, 10, "yP"));
  datasets.push(lineDs(redBand, "#ff0000", 2, 8, "yP", { cubicInterpolationMode: "monotone" }));
  datasets.push(lineDs(blueBand, "#0000ff", 2, 6, "yP", { cubicInterpolationMode: "monotone" }));
  return {
    type: "line",
    data: { datasets },
    options: {
      responsive: false, animation: false, devicePixelRatio: 1, events: [],
      layout: { padding: 0 },
      plugins: { legend: { display: false }, tooltip: { enabled: false } },
      scales: {
        x: { type: "linear", min: X_MIN, max: X_MAX, display: false, offset: false },
        yP: {
          type: "linear", position: "right", min: P_MIN, max: P_MAX,
          ticks: { display: false }, grid: { display: false }, border: { display: false },
          afterFit: (s: any) => { s.width = 40; },
        },
      },
    },
    plugins: [priceDecor],
  };
}

function stochConfig(): any {
  const datasets: any[] = [];
  for (const [t0, t1] of signalTop)
    datasets.push(lineDs([[t0, signalTopLevel], [t1, signalTopLevel]], "#0000ff", 4, 5, "yS", { borderCapStyle: "butt" }));
  for (const [t0, t1] of signalBottom)
    datasets.push(lineDs([[t0, signalBottomLevel], [t1, signalBottomLevel]], "#0000ff", 4, 5, "yS", { borderCapStyle: "butt" }));
  datasets.push(lineDs(stochK, "#0000ff", 1, 4, "yS"));
  datasets.push(lineDs(stochD, "#ff0000", 1, 3, "yS"));
  return {
    type: "line",
    data: { datasets },
    options: {
      responsive: false, animation: false, devicePixelRatio: 1, events: [],
      layout: { padding: 0 },
      plugins: { legend: { display: false }, tooltip: { enabled: false } },
      scales: {
        x: { type: "linear", min: X_MIN, max: X_MAX, display: false, offset: false },
        yS: {
          type: "linear", position: "right", min: S_MIN, max: S_MAX,
          ticks: { display: false }, grid: { display: false }, border: { display: false },
          afterFit: (s: any) => { s.width = 40; },
        },
      },
    },
    plugins: [stochDecor],
  };
}

export default function App() {
  const topRef = useRef<HTMLCanvasElement | null>(null);
  const botRef = useRef<HTMLCanvasElement | null>(null);
  useEffect(() => {
    document.body.style.margin = "0";
    const top = new Chart(topRef.current as any, priceConfig());
    const bot = new Chart(botRef.current as any, stochConfig());
    return () => { top.destroy(); bot.destroy(); };
  }, []);
  return (
    <div style={{ position: "absolute", left: 0, top: 0, width: 1387, height: 961, background: "#fff" }}>
      <canvas ref={topRef} width={1387} height={734} style={{ display: "block", width: 1387, height: 734 }} />
      <canvas ref={botRef} width={1387} height={227} style={{ display: "block", width: 1387, height: 227 }} />
    </div>
  );
}
